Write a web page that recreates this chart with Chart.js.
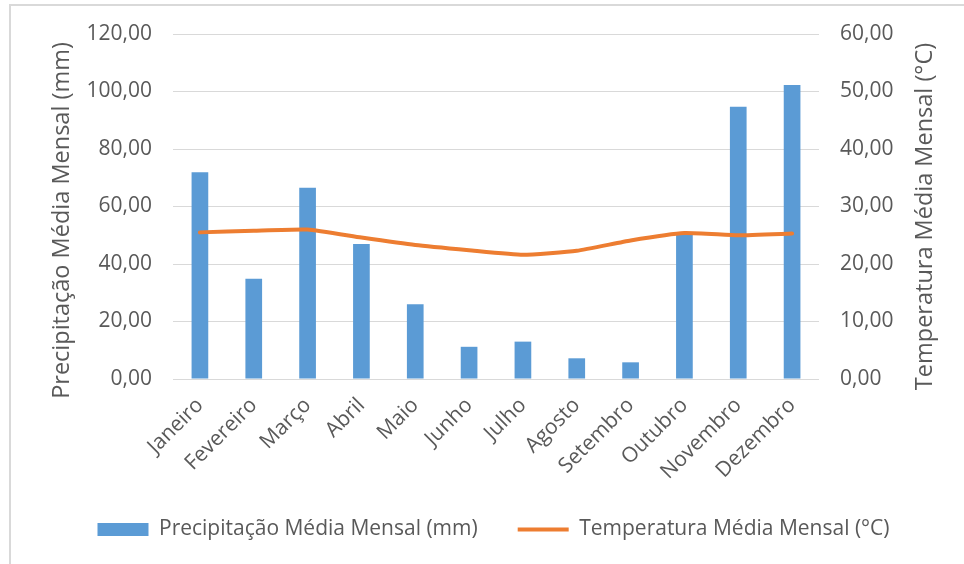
<!DOCTYPE html>
<html>
<head>
<meta charset="utf-8">
<script src="https://cdn.jsdelivr.net/npm/chart.js@4/dist/chart.umd.min.js"></script>
<style>
  html, body { margin: 0; padding: 0; background: #fff; overflow: hidden; }
  #moldura {
    position: absolute; left: 9px; top: 4px; width: 1200px; height: 800px;
    border-left: 2px solid #d9d9d9; border-top: 2px solid #d9d9d9;
  }
  #wrap { position: absolute; left: 0; top: 0; width: 964px; height: 564px; }
</style>
</head>
<body>
<div id="moldura"></div>
<div id="wrap"><canvas id="chartClima"></canvas></div>
<script>
const meses = ["Janeiro", "Fevereiro", "Março", "Abril", "Maio", "Junho",
  "Julho", "Agosto", "Setembro", "Outubro", "Novembro", "Dezembro"];
const precipitacao = [71.9, 34.9, 66.5, 47.0, 26.0, 11.2, 13.0, 7.2, 5.8, 50.5, 94.7, 102.3];
const temperatura = [25.5, 25.8, 26.0, 24.6, 23.3, 22.4, 21.6, 22.3, 24.1, 25.4, 25.0, 25.3];
const ticksPrecip = [0, 20, 40, 60, 80, 100, 120];
const ticksTemp = [0, 10, 20, 30, 40, 50, 60];
const tituloPrecip = "Precipitação Média Mensal (mm)";
const tituloTemp = "Temperatura Média Mensal (°C)";

const CINZA = "#595959";
const fonte = "'Open Sans', 'Noto Sans', sans-serif";

function formatoBR(v) {
  return Number(v).toFixed(2).replace(".", ",");
}

// titulos dos eixos, os dois lidos de baixo para cima (como no Excel)
const titulosEixos = {
  id: "titulosEixos",
  afterDraw: function (chart) {
    const c = chart.ctx;
    const area = chart.chartArea;
    const meio = (area.top + area.bottom) / 2;
    c.save();
    c.fillStyle = CINZA;
    c.font = "23.5px " + fonte;
    c.textAlign = "center";
    c.textBaseline = "middle";

    c.save();
    c.translate(chart.scales.y.left + 15, meio + 14);
    c.rotate(-Math.PI / 2);
    c.fillText(tituloPrecip, 0, 0);
    c.restore();

    c.save();
    c.translate(chart.scales.y1.right - 15, meio + 10);
    c.rotate(-Math.PI / 2);
    c.fillText(tituloTemp, 0, 0);
    c.restore();

    c.restore();
  }
};

Chart.defaults.font.family = fonte;
Chart.defaults.color = CINZA;

const ctx = document.getElementById("chartClima").getContext("2d");

new Chart(ctx, {
  type: "bar",
  data: {
    labels: meses,
    datasets: [
      {
        label: tituloPrecip,
        data: precipitacao,
        backgroundColor: "#5B9BD5",
        borderWidth: 0,
        barPercentage: 0.31,
        categoryPercentage: 1,
        yAxisID: "y",
        order: 2
      },
      {
        type: "line",
        label: tituloTemp,
        data: temperatura,
        borderColor: "#ED7D31",
        backgroundColor: "#ED7D31",
        borderWidth: 4,
        borderCapStyle: "round",
        pointRadius: 0,
        tension: 0.15,
        yAxisID: "y1",
        order: 1
      }
    ]
  },
  plugins: [titulosEixos],
  options: {
    responsive: true,
    maintainAspectRatio: false,
    animation: false,
    layout: { padding: { left: 47, right: 24, top: 34, bottom: 14 } },
    plugins: {
      tooltip: { enabled: false },
      legend: {
        position: "bottom",
        labels: {
          usePointStyle: true,
          pointStyleWidth: 51,
          boxHeight: 13,
          padding: 40,
          color: CINZA,
          font: { size: 21 },
          generateLabels: function (chart) {
            const itens = Chart.defaults.plugins.legend.labels.generateLabels(chart);
            for (let i = 0; i < itens.length; i++) {
              itens[i].pointStyle = itens[i].datasetIndex === 0 ? "rect" : "line";
              if (itens[i].datasetIndex === 0) itens[i].lineWidth = 0;
            }
            return itens.sort(function (a, b) { return a.datasetIndex - b.datasetIndex; });
          }
        }
      }
    },
    scales: {
      x: {
        grid: { display: false },
        border: { display: false },
        afterFit: function (s) { s.height = 100; },
        ticks: {
          autoSkip: false,
          maxRotation: 45,
          minRotation: 45,
          padding: 6,
          color: CINZA,
          font: { size: 21 }
        }
      },
      y: {
        position: "left",
        min: ticksPrecip[0],
        max: ticksPrecip[ticksPrecip.length - 1],
        afterFit: function (s) { s.width = 126; },
        afterBuildTicks: function (s) {
          s.ticks = ticksPrecip.map(function (v) { return { value: v }; });
        },
        grid: { color: "#D9D9D9", lineWidth: 1, drawTicks: false },
        border: { display: false },
        ticks: {
          padding: 21,
          color: CINZA,
          font: { size: 21 },
          callback: formatoBR
        }
      },
      y1: {
        position: "right",
        min: ticksTemp[0],
        max: ticksTemp[ticksTemp.length - 1],
        afterFit: function (s) { s.width = 121; },
        afterBuildTicks: function (s) {
          s.ticks = ticksTemp.map(function (v) { return { value: v }; });
        },
        grid: { drawOnChartArea: false, drawTicks: false },
        border: { display: false },
        ticks: {
          padding: 21,
          color: CINZA,
          font: { size: 21 },
          callback: formatoBR
        }
      }
    }
  }
});
</script>
</body>
</html>
